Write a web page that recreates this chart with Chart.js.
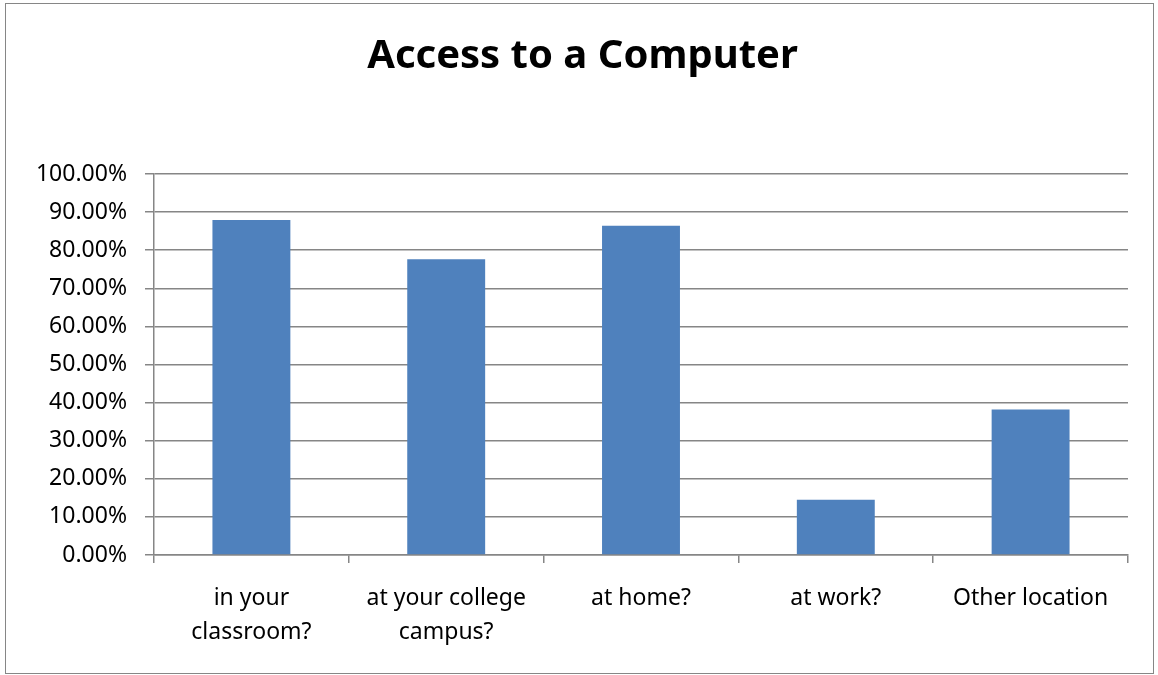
<!DOCTYPE html>
<html lang="en">
<head>
    <meta charset="UTF-8">
    <title>Access to a Computer</title>
    <style>
        html, body {
            margin: 0;
            padding: 0;
            background: #ffffff;
        }

        #chartContainer {
            width: 1158px;
            height: 675px;
        }
    </style>
    <script src="https://cdn.jsdelivr.net/npm/chart.js"></script>
    <script>
        const categories = [
            ['in your', 'classroom?'],
            ['at your college', 'campus?'],
            'at home?',
            'at work?',
            'Other location'
        ];
        const accessShare = [87.9, 77.6, 86.4, 14.5, 38.2];
        const yTicks = [0, 10, 20, 30, 40, 50, 60, 70, 80, 90, 100];

        // thin grey frame around the whole chart
        const frame = {
            id: 'frame',
            beforeDraw(chart) {
                const ctx = chart.ctx;
                ctx.save();
                ctx.fillStyle = '#ffffff';
                ctx.fillRect(0, 0, chart.width, chart.height);
                ctx.strokeStyle = '#868686';
                ctx.lineWidth = 1;
                ctx.strokeRect(5.5, 3.5, 1148, 670);
                ctx.restore();
            }
        };

        function createChart() {
            const ctx = document.getElementById('accessChart').getContext('2d');
            new Chart(ctx, {
                type: 'bar',
                data: {
                    labels: categories,
                    datasets: [{
                        label: 'Access',
                        data: accessShare,
                        backgroundColor: '#4f81bd',
                        categoryPercentage: 1,
                        barPercentage: 0.4
                    }]
                },
                options: {
                    responsive: false,
                    animation: false,
                    layout: {
                        padding: { left: 37, right: 30, top: 0, bottom: 0 }
                    },
                    plugins: {
                        legend: { display: false },
                        tooltip: { enabled: false },
                        title: {
                            display: true,
                            text: 'Access to a Computer',
                            color: '#000000',
                            font: { family: 'Noto Sans', size: 40, weight: 'bold', lineHeight: 1.2 },
                            padding: { top: 33, bottom: 93 }
                        }
                    },
                    scales: {
                        x: {
                            afterFit(scale) { scale.height = 120; },
                            grid: {
                                offset: true,
                                drawOnChartArea: false,
                                drawTicks: true,
                                tickLength: 8,
                                color: '#868686',
                                lineWidth: 1.5
                            },
                            border: { color: '#868686', width: 1.5 },
                            ticks: {
                                color: '#000000',
                                padding: 19,
                                maxRotation: 0,
                                autoSkip: false,
                                font: { family: 'Noto Sans', size: 23, lineHeight: 1.45 }
                            }
                        },
                        y: {
                            min: 0,
                            max: 100,
                            afterFit(scale) { scale.width = 117; },
                            afterBuildTicks(scale) {
                                scale.ticks = yTicks.map(v => ({ value: v }));
                            },
                            grid: {
                                color: '#868686',
                                lineWidth: 1.5,
                                tickLength: 9
                            },
                            border: { color: '#868686', width: 1.5 },
                            ticks: {
                                color: '#000000',
                                padding: 18,
                                font: { family: 'Noto Sans', size: 23 },
                                callback: v => v.toFixed(2) + '%'
                            }
                        }
                    }
                },
                plugins: [frame]
            });
        }

        window.onload = () => {
            createChart();
        };
    </script>
</head>
<body>
    <div id="chartContainer">
        <canvas id="accessChart" width="1158" height="675"></canvas>
    </div>
</body>
</html>
